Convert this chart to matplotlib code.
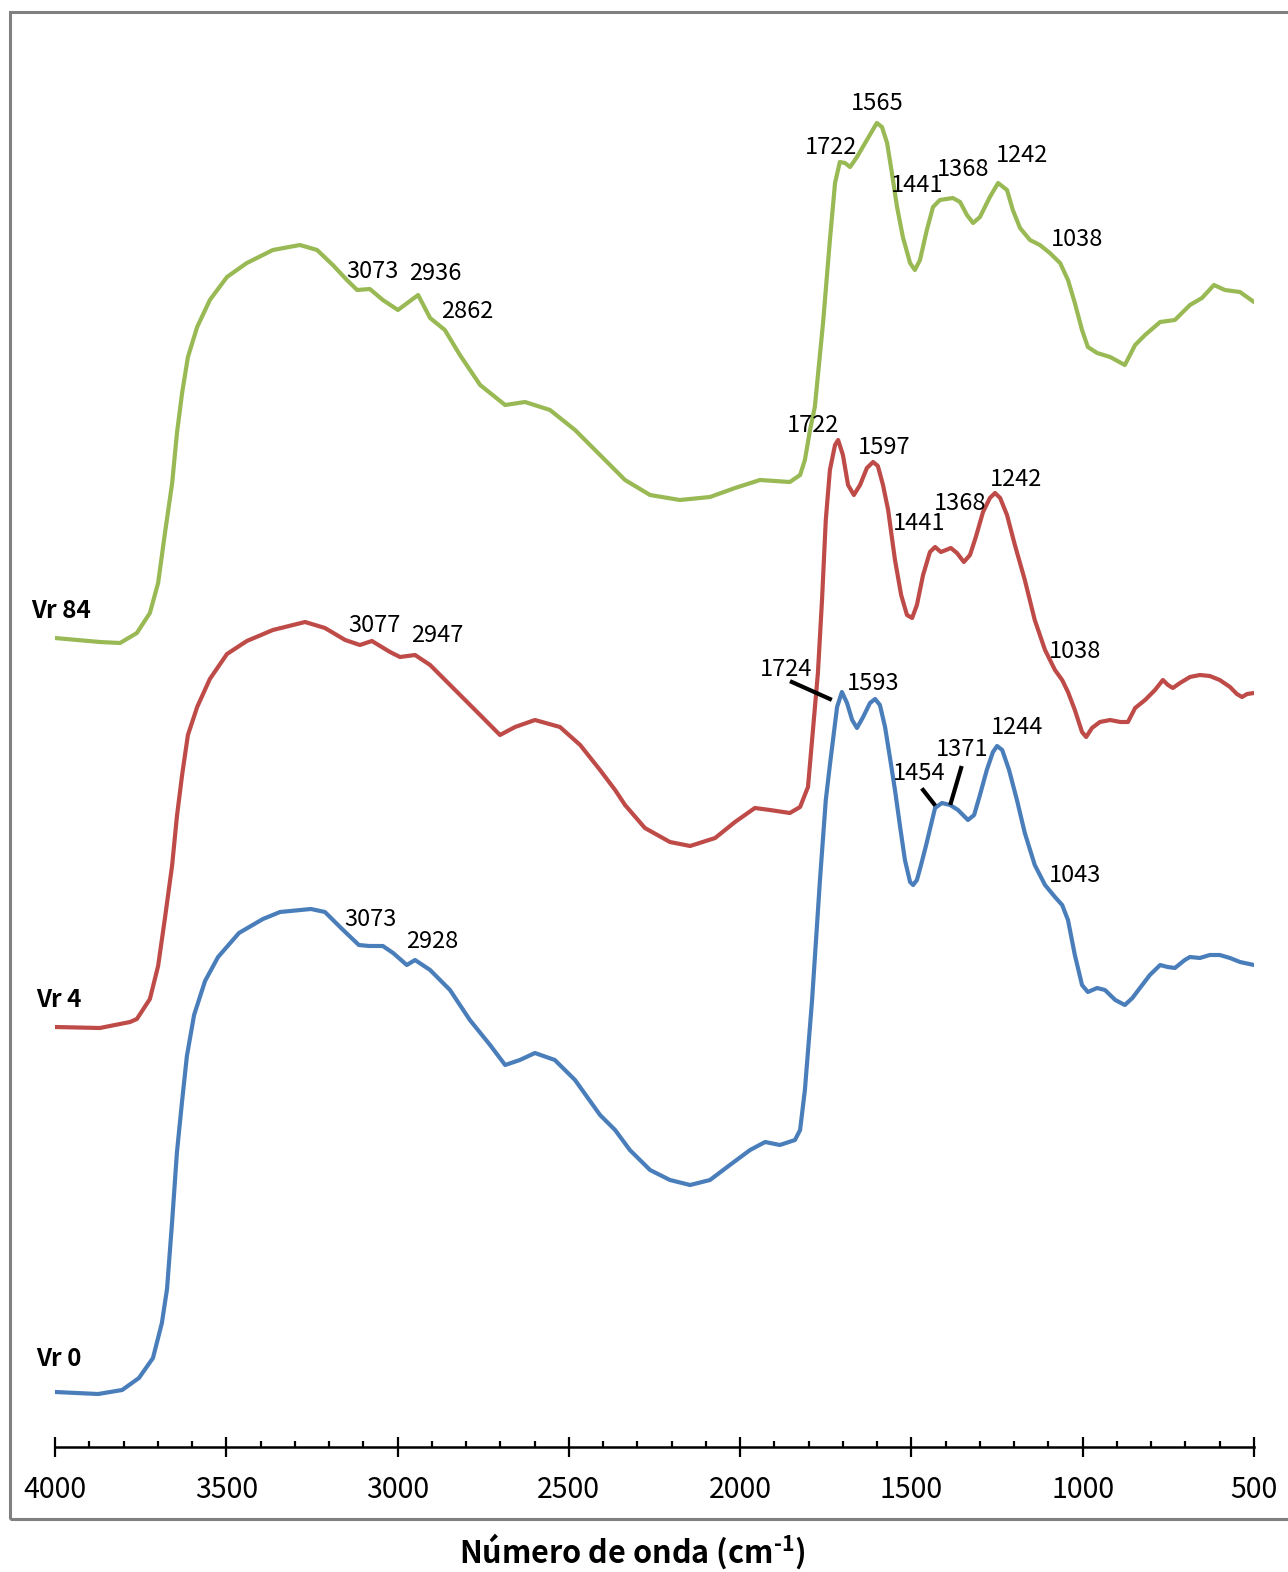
'''
FTIR spectra of Vr 0, Vr 4 and Vr 84 (stacked)
'''

import matplotlib
matplotlib.use('Agg')
import matplotlib.pyplot as plt
from matplotlib.patches import Rectangle
from matplotlib.ticker import MultipleLocator

plt.rcParams['font.family'] = ['Noto Sans CJK KR', 'DejaVu Sans']
plt.rcParams['mathtext.fontset'] = 'custom'
plt.rcParams['mathtext.rm'] = 'Noto Sans CJK KR:bold'
plt.rcParams['mathtext.bf'] = 'Noto Sans CJK KR:bold'

# wavenumber (cm-1) / intensity (a.u., offset already included)
wn_vr0 = [4000, 3874, 3804, 3755, 3714, 3688, 3673, 3658, 3644, 3629, 3615, 3594, 3562, 3524,
          3463, 3393, 3343, 3253, 3212, 3162, 3113, 3083, 3043, 3013, 2973, 2949, 2905, 2847,
          2789, 2730, 2686, 2643, 2599, 2541, 2482, 2409, 2365, 2322, 2263, 2205, 2146, 2088,
          2030, 1971, 1927, 1884, 1840, 1825, 1811, 1790, 1767, 1750, 1738, 1729, 1717, 1703,
          1688, 1673, 1659, 1641, 1621, 1606, 1592, 1577, 1563, 1548, 1533, 1519, 1504, 1495,
          1484, 1472, 1457, 1443, 1431, 1411, 1387, 1364, 1335, 1317, 1300, 1280, 1262, 1250,
          1235, 1215, 1192, 1169, 1140, 1110, 1081, 1060, 1043, 1023, 1002, 985, 958, 935,
          905, 877, 855, 833, 804, 774, 752, 731, 702, 687, 658, 629, 600, 570, 541, 500]
i_vr0 = [0.55, 0.53, 0.57, 0.69, 0.89, 1.24, 1.58, 2.26, 2.95, 3.46, 3.91, 4.32, 4.66, 4.90,
         5.14, 5.28, 5.35, 5.38, 5.35, 5.18, 5.02, 5.01, 5.01, 4.94, 4.82, 4.87, 4.77, 4.57,
         4.27, 4.02, 3.82, 3.87, 3.94, 3.87, 3.67, 3.32, 3.17, 2.97, 2.77, 2.67, 2.62, 2.67,
         2.82, 2.97, 3.05, 3.02, 3.07, 3.17, 3.57, 4.47, 5.67, 6.47, 6.82, 7.07, 7.40, 7.55,
         7.44, 7.27, 7.19, 7.30, 7.44, 7.48, 7.42, 7.20, 6.90, 6.57, 6.20, 5.87, 5.65, 5.62,
         5.67, 5.82, 6.02, 6.22, 6.39, 6.44, 6.42, 6.37, 6.27, 6.32, 6.52, 6.77, 6.95, 7.01,
         6.97, 6.77, 6.47, 6.14, 5.82, 5.62, 5.50, 5.42, 5.27, 4.92, 4.62, 4.55, 4.59, 4.57,
         4.47, 4.42, 4.49, 4.59, 4.72, 4.82, 4.80, 4.79, 4.87, 4.90, 4.89, 4.92, 4.92, 4.89,
         4.85, 4.82]

wn_vr4 = [4000, 3869, 3781, 3761, 3723, 3699, 3679, 3658, 3644, 3629, 3612, 3585, 3548, 3498,
          3440, 3364, 3270, 3212, 3153, 3110, 3075, 3022, 2993, 2949, 2905, 2832, 2759, 2701,
          2657, 2599, 2526, 2467, 2409, 2365, 2336, 2278, 2205, 2146, 2073, 2015, 1957, 1913,
          1855, 1825, 1802, 1790, 1773, 1761, 1750, 1738, 1723, 1714, 1700, 1685, 1668, 1650,
          1630, 1612, 1598, 1583, 1568, 1548, 1530, 1513, 1498, 1484, 1466, 1446, 1431, 1414,
          1399, 1385, 1367, 1347, 1329, 1312, 1291, 1271, 1256, 1241, 1221, 1198, 1169, 1140,
          1110, 1081, 1060, 1043, 1023, 1002, 990, 973, 950, 920, 890, 868, 847, 818, 789, 766,
          751, 737, 716, 687, 658, 629, 600, 570, 550, 535, 520, 500]
i_vr4 = [4.20, 4.19, 4.25, 4.28, 4.48, 4.81, 5.29, 5.82, 6.31, 6.72, 7.12, 7.40, 7.68, 7.93,
         8.06, 8.17, 8.25, 8.19, 8.07, 8.02, 8.06, 7.95, 7.90, 7.92, 7.82, 7.57, 7.32, 7.12,
         7.20, 7.27, 7.20, 7.02, 6.77, 6.57, 6.42, 6.19, 6.05, 6.01, 6.09, 6.25, 6.39, 6.37,
         6.34, 6.40, 6.60, 7.07, 7.74, 8.47, 9.27, 9.77, 10.02, 10.07, 9.92, 9.62, 9.52, 9.62,
         9.79, 9.85, 9.81, 9.62, 9.37, 8.87, 8.52, 8.32, 8.29, 8.42, 8.72, 8.95, 9.00, 8.95,
         8.97, 8.99, 8.94, 8.85, 8.92, 9.10, 9.35, 9.49, 9.54, 9.49, 9.32, 9.02, 8.67, 8.27,
         7.97, 7.77, 7.67, 7.55, 7.37, 7.15, 7.10, 7.19, 7.25, 7.27, 7.25, 7.25, 7.39, 7.47,
         7.57, 7.67, 7.62, 7.59, 7.64, 7.70, 7.72, 7.71, 7.67, 7.60, 7.53, 7.50, 7.53, 7.54]

wn_vr84 = [4000, 3869, 3810, 3761, 3723, 3699, 3679, 3658, 3644, 3629, 3612, 3585, 3548, 3498,
           3440, 3364, 3285, 3235, 3189, 3148, 3118, 3081, 3043, 2999, 2940, 2905, 2862, 2818,
           2759, 2686, 2628, 2555, 2482, 2409, 2336, 2263, 2176, 2088, 2015, 1942, 1855, 1825,
           1811, 1796, 1782, 1758, 1738, 1723, 1709, 1694, 1679, 1659, 1630, 1601, 1586, 1571,
           1557, 1542, 1525, 1504, 1490, 1475, 1455, 1437, 1417, 1379, 1358, 1338, 1320, 1300,
           1271, 1247, 1221, 1204, 1183, 1154, 1125, 1096, 1066, 1043, 1023, 1002, 985, 958,
           920, 877, 847, 818, 774, 731, 687, 652, 617, 585, 541, 500]
i_vr84 = [8.09, 8.05, 8.04, 8.14, 8.34, 8.64, 9.14, 9.64, 10.14, 10.54, 10.90, 11.20, 11.47,
          11.70, 11.84, 11.97, 12.02, 11.97, 11.82, 11.67, 11.57, 11.58, 11.47, 11.37, 11.52,
          11.29, 11.17, 10.92, 10.62, 10.42, 10.45, 10.37, 10.17, 9.92, 9.67, 9.52, 9.47, 9.50,
          9.59, 9.67, 9.65, 9.72, 9.87, 10.17, 10.40, 11.24, 12.07, 12.64, 12.85, 12.84, 12.80,
          12.90, 13.07, 13.24, 13.20, 13.04, 12.74, 12.40, 12.10, 11.84, 11.77, 11.87, 12.17,
          12.40, 12.47, 12.49, 12.45, 12.32, 12.24, 12.30, 12.50, 12.64, 12.57, 12.37, 12.19,
          12.07, 12.02, 11.94, 11.84, 11.67, 11.44, 11.17, 11.00, 10.94, 10.90, 10.82, 11.02,
          11.12, 11.25, 11.27, 11.42, 11.49, 11.62, 11.57, 11.55, 11.45]

# peak labels: text, wavenumber, height
peaks_vr84 = [('1565', 1601, 13.43), ('1722', 1735, 13.00), ('1441', 1484, 12.61),
              ('1368', 1350, 12.77), ('1242', 1177, 12.91), ('1038', 1017, 12.07),
              ('3073', 3072, 11.76), ('2936', 2891, 11.74), ('2862', 2797, 11.36)]
peaks_vr4 = [('1722', 1787, 10.21), ('1597', 1580, 10.00), ('1441', 1478, 9.23),
             ('1368', 1358, 9.44), ('1242', 1195, 9.67), ('1038', 1023, 7.96),
             ('3077', 3066, 8.21), ('2947', 2885, 8.11)]
peaks_vr0 = [('1724', 1866, 7.78), ('1593', 1612, 7.64), ('1454', 1478, 6.74),
             ('1371', 1352, 6.98), ('1244', 1192, 7.19), ('1043', 1023, 5.71),
             ('3073', 3078, 5.28), ('2928', 2900, 5.06)]
# leader lines for crowded Vr 0 labels
leaders = [((1849, 1738), (7.65, 7.48)), ((1466, 1434), (6.57, 6.43)), ((1355, 1385), (6.79, 6.44))]

names = ['Vr 84', 'Vr 4', 'Vr 0']
name_pos = [(4070, 8.36), (4055, 4.47), (4055, 0.88)]

fig = plt.figure(figsize=(12.88, 15.72), dpi=100)
W, H = 1288, 1572
ax = fig.add_axes([55 / W, (H - 1447) / H, 1199 / W, 1435 / H])

ax.plot(wn_vr84, i_vr84, color='#98b954', lw=3, solid_capstyle='round', solid_joinstyle='round')
ax.plot(wn_vr4, i_vr4, color='#be4b48', lw=3, solid_capstyle='round', solid_joinstyle='round')
ax.plot(wn_vr0, i_vr0, color='#4a7ebb', lw=3, solid_capstyle='round', solid_joinstyle='round')

for peaks in (peaks_vr84, peaks_vr4, peaks_vr0):
    for txt, x, y in peaks:
        ax.text(x, y, txt, ha='center', va='center', fontsize=17, color='black')
for xs, ys in leaders:
    ax.plot(xs, ys, color='black', lw=3)

for name, (x, y) in zip(names, name_pos):
    ax.text(x, y, name, ha='left', va='center', fontsize=17.5, fontweight='bold', clip_on=False)

ax.set_xlim(4000, 500)
ax.set_ylim(0, 14.35)
for s in ['left', 'right', 'top']:
    ax.spines[s].set_visible(False)
ax.spines['bottom'].set_linewidth(1.8)
ax.set_yticks([])
ax.xaxis.set_major_locator(MultipleLocator(500))
ax.xaxis.set_minor_locator(MultipleLocator(100))
ax.tick_params(axis='x', which='major', direction='inout', length=14, width=1.6,
               labelsize=20.5, pad=13)
ax.tick_params(axis='x', which='minor', direction='in', length=4.5, width=1.6)

# outer grey frame (open on the right)
fig.add_artist(Rectangle((10 / W, (H - 1519) / H), 1.0, 1507 / H, transform=fig.transFigure,
                         fill=False, edgecolor='#808080', lw=2.2))

fig.text(632 / W, 1 - 1551 / H, r'Número de onda (cm$^{\text{-1}}$)', ha='center', va='center',
         fontsize=22, fontweight='bold')

fig.savefig('out.png', dpi=100)
